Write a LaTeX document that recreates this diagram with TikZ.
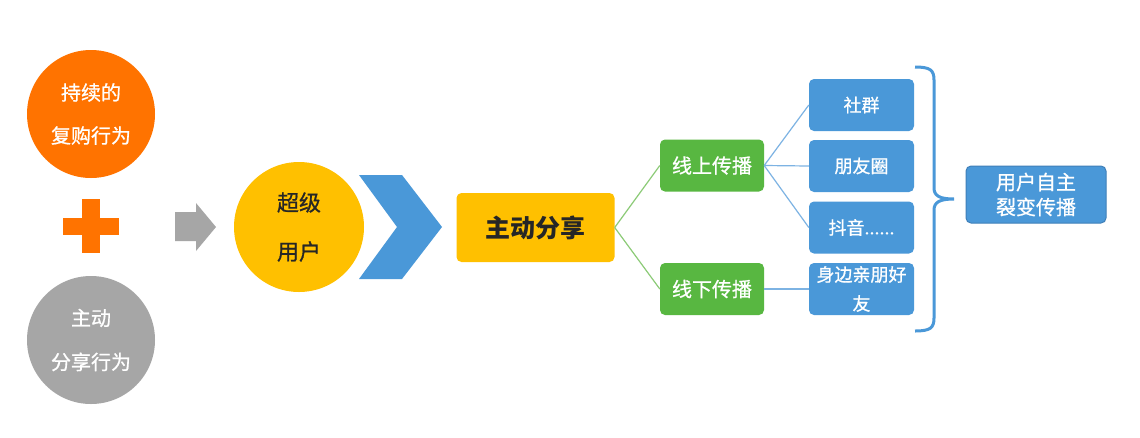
\documentclass[tikz,border=0pt]{standalone}
\usepackage{fontspec}
\setmainfont{Noto Sans CJK SC}
\newfontfamily\medfont[FakeBold=0.8]{Noto Sans CJK SC}
\definecolor{corange}{HTML}{FF7300}
\definecolor{cgray}{HTML}{A6A6A6}
\definecolor{cyellow}{HTML}{FFC000}
\definecolor{cblue}{HTML}{4A98D8}
\definecolor{cbluedark}{HTML}{3F7FB8}
\definecolor{cgreen}{HTML}{58B741}
\definecolor{ctext}{HTML}{262626}
\definecolor{cgline}{HTML}{8CCB77}
\definecolor{cbline}{HTML}{7DB3E3}
\begin{document}
\begin{tikzpicture}[x=1pt,y=-1pt,
  circ/.style={circle,inner sep=0pt,align=center},
  box/.style={rectangle,rounded corners=5pt,inner sep=0pt,align=center},
  gbox/.style={box,fill=cgreen,text=white,minimum width=104pt,minimum height=52pt,font=\fontsize{20}{24}\selectfont\medfont},
  bbox/.style={box,fill=cblue,text=white,minimum width=105pt,minimum height=52pt,font=\fontsize{18}{29}\selectfont\medfont},
  gline/.style={draw=cgline,line width=1.2pt},
  bline/.style={draw=cbline,line width=1.2pt}]
\useasboundingbox (0,0) rectangle (1140,437);
\fill[white] (0,0) rectangle (1140,437);
% circles
\node[circ,fill=corange,text=white,minimum size=128pt,font=\fontsize{20}{43}\selectfont\medfont] (rebuy) at (91,114) {持续的\\复购行为};
\node[circ,fill=cgray,text=white,minimum size=128pt,font=\fontsize{20}{44}\selectfont\medfont] (sharebeh) at (91,340) {主动\\分享行为};
% plus
\node[rectangle,fill=corange,minimum width=18pt,minimum height=54pt,inner sep=0pt] (plusv) at (91,226) {};
\node[rectangle,fill=corange,minimum width=56pt,minimum height=17pt,inner sep=0pt] (plush) at (91,226) {};
% gray arrow
\fill[cgray] (175,212) -- (196,212) -- (196,203) -- (216,227) -- (196,251) -- (196,241) -- (175,241) -- cycle;
% super user
\node[circ,fill=cyellow,text=ctext,minimum size=130pt,font=\fontsize{22}{49}\selectfont\medfont] (super) at (299,227) {超级\\用户};
% chevron
\fill[cblue] (359,175) -- (402,175) -- (442,227) -- (402,279) -- (359,279) -- (397,227) -- cycle;
% share box
\node[box,fill=cyellow,text=ctext,minimum width=158pt,minimum height=69pt,font=\fontsize{25}{30}\selectfont\bfseries] (share) at (535.5,227.5) {主动分享};
% green boxes
\node[gbox] (online) at (712,165.5) {线上传播};
\node[gbox] (offline) at (712,289) {线下传播};
% blue boxes
\node[bbox] (b1) at (861.5,105) {社群};
\node[bbox] (b2) at (861.5,166) {朋友圈};
\node[bbox] (b3) at (861.5,227.5) {抖音......};
\node[bbox] (b4) at (861.5,289) {身边亲朋好\\友};
% final box
\node[box,fill=cblue,draw=cbluedark,line width=1pt,text=white,minimum width=140pt,minimum height=57pt,font=\fontsize{20}{25}\selectfont\medfont] (final) at (1036,194.5) {用户自主\\裂变传播};
% connectors
\draw[gline] (share.east) -- (online.west);
\draw[gline] (share.east) -- (offline.west);
\draw[bline] (online.east) -- (b1.west);
\draw[bline] (online.east) -- (b2.west);
\draw[bline] (online.east) -- (b3.west);
\draw[bline] (offline.east) -- (b4.west);
% bracket
\draw[cblue,line width=3pt] (915,67) .. controls (930,67) and (934,70) .. (934,80) -- (934,188) .. controls (934,196) and (940,199) .. (954,199) .. controls (940,199) and (934,202) .. (934,210) -- (934,318) .. controls (934,328) and (930,331) .. (915,331);
\end{tikzpicture}
\end{document}
